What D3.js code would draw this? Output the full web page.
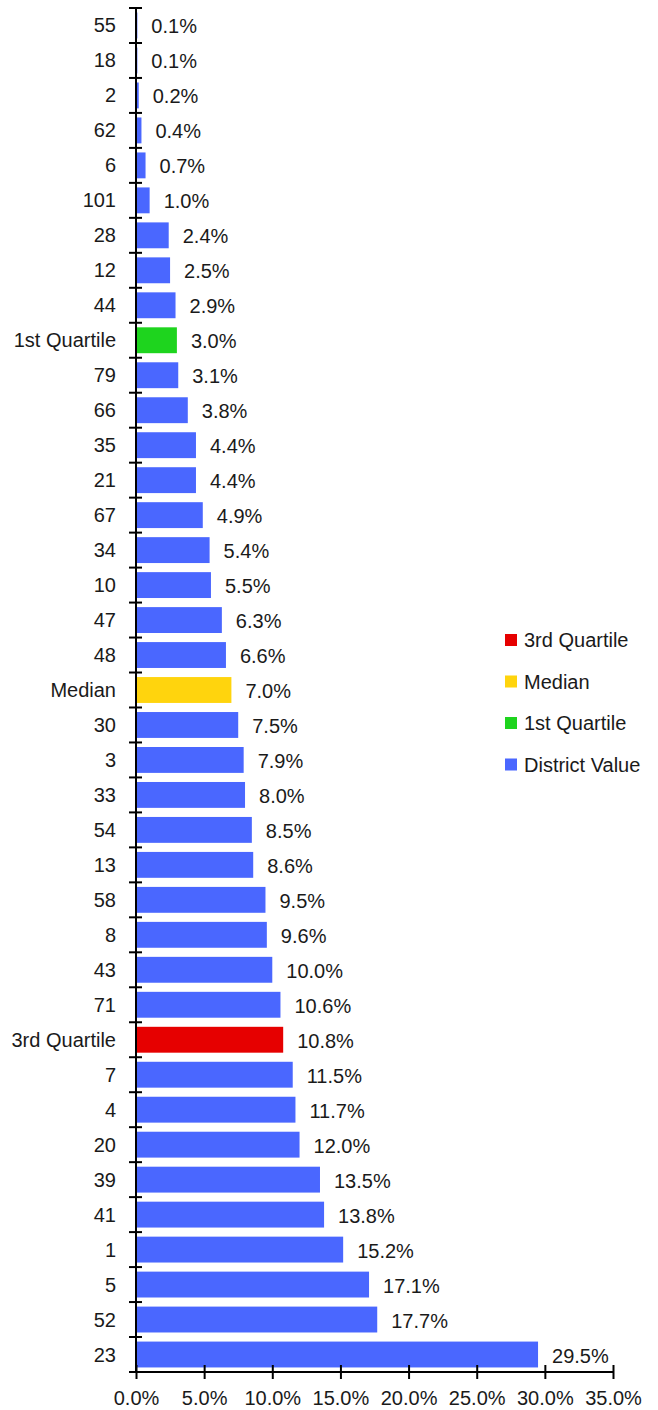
<!DOCTYPE html>
<html>
<head>
<meta charset="utf-8">
<script src="https://cdn.jsdelivr.net/npm/d3@7"></script>
<style>
  body { margin: 0; background: #fff; }
  text { font-family: "Liberation Sans", Arial, sans-serif; font-size: 20px; fill: #1a1a1a; }
</style>
</head>
<body>
<div class="chart"></div>
<script>
// ============================================================================
// Data
// ============================================================================

var categories = ['55', '18', '2', '62', '6', '101', '28', '12', '44', '1st Quartile',
  '79', '66', '35', '21', '67', '34', '10', '47', '48', 'Median',
  '30', '3', '33', '54', '13', '58', '8', '43', '71', '3rd Quartile',
  '7', '4', '20', '39', '41', '1', '5', '52', '23'];

var values = [0.1, 0.1, 0.2, 0.4, 0.7, 1.0, 2.4, 2.5, 2.9, 3.0,
  3.1, 3.8, 4.4, 4.4, 4.9, 5.4, 5.5, 6.3, 6.6, 7.0,
  7.5, 7.9, 8.0, 8.5, 8.6, 9.5, 9.6, 10.0, 10.6, 10.8,
  11.5, 11.7, 12.0, 13.5, 13.8, 15.2, 17.1, 17.7, 29.5];

var xTicks = [0, 5, 10, 15, 20, 25, 30, 35];

var legendNames = ['3rd Quartile', 'Median', '1st Quartile', 'District Value'];
var legendColors = ['#e60000', '#ffd40d', '#1ed41e', '#4a67ff'];

// ============================================================================
// Create SVG
// ============================================================================

var svgWidth = 658;
var svgHeight = 1410;

var svg = d3.select('.chart')
  .append('svg')
  .attr('width', svgWidth)
  .attr('height', svgHeight);

var x = d3.scaleLinear()
  .domain([0, 35])
  .range([136, 613]);

var y = d3.scaleBand()
  .domain(categories)
  .range([8, 1372])
  .paddingInner(0.26)
  .paddingOuter(0.13);

var color = d3.scaleOrdinal()
  .domain(legendNames)
  .range(legendColors);

function barColor(c) {
  return legendNames.indexOf(c) >= 0 ? color(c) : color('District Value');
}

// bars
svg.selectAll('rect.bar')
  .data(categories)
  .enter()
  .append('rect')
  .attr('class', 'bar')
  .attr('x', x(0))
  .attr('y', d => y(d))
  .attr('width', (d, i) => x(values[i]) - x(0))
  .attr('height', y.bandwidth())
  .attr('fill', d => barColor(d));

// value labels
svg.selectAll('text.value')
  .data(categories)
  .enter()
  .append('text')
  .attr('class', 'value')
  .attr('x', (d, i) => x(values[i]) + 14)
  .attr('y', d => y(d) + y.bandwidth() / 2 + 1)
  .attr('dy', '0.35em')
  .text((d, i) => values[i].toFixed(1) + '%');

// category labels
svg.selectAll('text.cat')
  .data(categories)
  .enter()
  .append('text')
  .attr('class', 'cat')
  .attr('x', 116)
  .attr('y', d => y(d) + y.bandwidth() / 2)
  .attr('dy', '0.35em')
  .attr('text-anchor', 'end')
  .text(d => d);

// y axis line + ticks on band boundaries
var step = y.step();
var bandEdges = d3.range(categories.length + 1).map(i => 8 + i * step);

svg.append('line')
  .attr('x1', x(0)).attr('x2', x(0))
  .attr('y1', 8).attr('y2', 1372)
  .attr('stroke', '#000').attr('stroke-width', 2);

svg.selectAll('line.ytick')
  .data(bandEdges)
  .enter()
  .append('line')
  .attr('class', 'ytick')
  .attr('x1', x(0) - 7).attr('x2', x(0) + 6)
  .attr('y1', d => d).attr('y2', d => d)
  .attr('stroke', '#000').attr('stroke-width', 2);

// x axis
var xAxis = svg.append('g')
  .attr('transform', 'translate(0, 1372)')
  .call(d3.axisBottom(x)
    .tickValues(xTicks)
    .tickSize(7)
    .tickFormat(d => d.toFixed(1) + '%'));

xAxis.select('.domain')
  .attr('d', `M${x(0) - 7},0H${x(35)}`)
  .attr('stroke-width', 2);

xAxis.selectAll('.tick line')
  .attr('y1', -7)
  .attr('y2', 7)
  .attr('stroke-width', 2);

xAxis.selectAll('.tick text')
  .attr('y', 19)
  .attr('font-family', null)
  .attr('font-size', null)
  .attr('fill', null);

// legend
var legend = svg.append('g');
var legendItems = legend.selectAll('g')
  .data(legendNames)
  .enter()
  .append('g')
  .attr('transform', (d, i) => `translate(505, ${640 + i * 41.5})`);

legendItems.append('rect')
  .attr('x', 0).attr('y', -6)
  .attr('width', 12).attr('height', 12)
  .attr('fill', d => color(d));

legendItems.append('text')
  .attr('x', 19)
  .attr('dy', '0.35em')
  .text(d => d);
</script>
</body>
</html>
